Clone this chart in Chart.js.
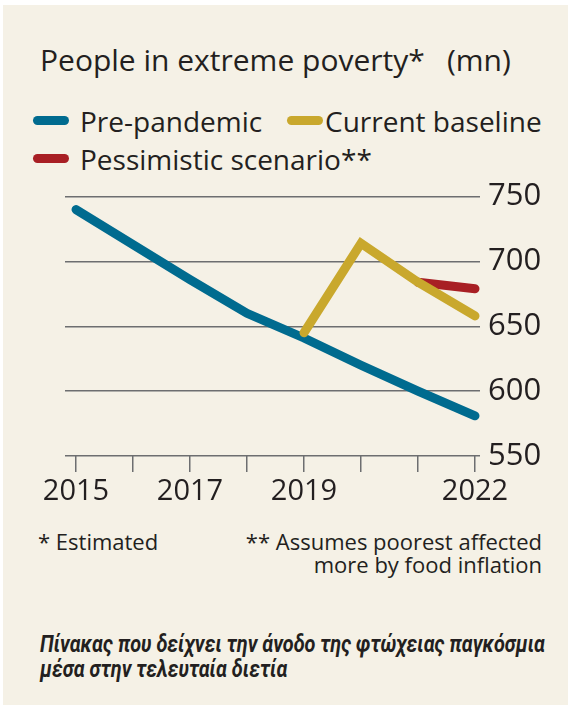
<!DOCTYPE html>
<html>
<head>
<meta charset="utf-8">
<script src="https://cdn.jsdelivr.net/npm/chart.js@4.4.0/dist/chart.umd.min.js"></script>
<style>
    body { margin: 0; background: #ffffff; width: 569px; height: 711px; position: relative; overflow: hidden; }
    #panel { position: absolute; left: 3px; top: 5px; width: 565px; height: 700px; background: #f5f1e6; }
    .txt { position: absolute; font-family: "Open Sans", sans-serif; color: #231f20; line-height: 1; white-space: nowrap; }
    .swatch { position: absolute; height: 9px; border-radius: 5px; }
    #chart { position: absolute; left: 0; top: 170px; }
    #greek { position: absolute; left: 40px; top: 631.5px; font-family: Roboto, sans-serif; font-style: italic; font-weight: 700;
             font-size: 23px; line-height: 25px; color: #231f20; white-space: nowrap; transform-origin: 0 0; }
</style>
</head>
<body>
<div id="panel"></div>
<div class="txt" style="left:40px; top:44.5px; font-size:30px;">People in extreme poverty*</div>
<div class="txt" style="left:447px; top:44.5px; font-size:30px;">(mn)</div>
<div id="legend"></div>
<canvas id="chart" width="569" height="350"></canvas>
<div class="txt" style="left:38px; top:530px; font-size:22px;">* Estimated</div>
<div class="txt" style="right:27px; top:530px; font-size:22px; text-align:right; line-height:23px;">** Assumes poorest affected<br>more by food inflation</div>
<div id="greek">Πίνακας που δείχνει την άνοδο της φτώχειας παγκόσμια<br>μέσα στην τελευταία διετία</div>
<script>
// data
const years = [2015, 2016, 2017, 2018, 2019, 2020, 2021, 2022];
const prePandemic = [740, 713, 686, 660, 641, 620, 600, 581];
const baselineYears = [2019, 2020, 2021, 2022];
const currentBaseline = [645, 714, 684, 658];
const pessimisticYears = [2021, 2022];
const pessimistic = [684, 679];
const seriesNames = ['Pre-pandemic', 'Current baseline', 'Pessimistic scenario**'];
const seriesColors = ['#006b8f', '#c9a82d', '#a81f24'];
const xLabels = [2015, 2017, 2019, 2022];
const yTicks = [550, 600, 650, 700, 750];

// legend
const legendPos = [
    { sx: 33, tx: 80, y: 120 },
    { sx: 287, tx: 325, y: 120 },
    { sx: 33, tx: 80, y: 158 }
];
const legend = document.getElementById('legend');
seriesNames.forEach((name, i) => {
    const sw = document.createElement('div');
    sw.className = 'swatch';
    sw.style.cssText = `left:${legendPos[i].sx}px; top:${legendPos[i].y - 4.5}px; width:36px; background:${seriesColors[i]};`;
    legend.appendChild(sw);
    const t = document.createElement('div');
    t.className = 'txt';
    t.style.cssText = `left:${legendPos[i].tx}px; top:${legendPos[i].y - 13}px; font-size:28px;`;
    t.textContent = name;
    legend.appendChild(t);
});

const toPoints = (xs, ys) => xs.map((x, i) => ({ x: x, y: ys[i] }));

const lineStyle = {
    borderWidth: 9,
    borderCapStyle: 'round',
    pointRadius: 0,
    tension: 0,
    fill: false,
    clip: false
};

new Chart(document.getElementById('chart'), {
    type: 'line',
    data: {
        datasets: [
            { ...lineStyle, label: seriesNames[1], data: toPoints(baselineYears, currentBaseline), borderColor: seriesColors[1], order: 0 },
            { ...lineStyle, label: seriesNames[2], data: toPoints(pessimisticYears, pessimistic), borderColor: seriesColors[2], order: 1 },
            { ...lineStyle, label: seriesNames[0], data: toPoints(years, prePandemic), borderColor: seriesColors[0], order: 2 }
        ]
    },
    options: {
        responsive: false,
        animation: false,
        devicePixelRatio: 1,
        layout: { padding: { left: 65, top: 22, right: 0, bottom: 0 } },
        plugins: { legend: { display: false }, tooltip: { enabled: false } },
        scales: {
            x: {
                type: 'linear',
                min: 2015 - 11 / 57,
                max: 2022 + 5 / 57,
                afterFit: (scale) => { scale.height = 64; },
                afterBuildTicks: (scale) => { scale.ticks = years.map(v => ({ value: v })); },
                grid: { drawOnChartArea: false, drawTicks: true, tickLength: 16, color: '#6d6e70', lineWidth: 1.5 },
                border: { display: false },
                ticks: {
                    autoSkip: false,
                    maxRotation: 0,
                    padding: 2,
                    color: '#231f20',
                    font: { family: 'Open Sans', size: 29 },
                    callback: (v) => xLabels.includes(v) ? String(v) : ''
                }
            },
            y: {
                position: 'right',
                min: 550,
                max: 750,
                afterFit: (scale) => { scale.width = 89; },
                afterBuildTicks: (scale) => { scale.ticks = yTicks.map(v => ({ value: v })); },
                grid: { drawTicks: false, color: '#6d6e70', lineWidth: 1.5 },
                border: { display: false },
                ticks: {
                    padding: 8,
                    color: '#231f20',
                    font: { family: 'Open Sans', size: 31 }
                }
            }
        }
    }
});

// the caption uses a condensed italic face; squeeze Roboto to the same width
const greek = document.getElementById('greek');
greek.style.transform = `scaleX(${505 / greek.scrollWidth})`;
</script>
</body>
</html>
